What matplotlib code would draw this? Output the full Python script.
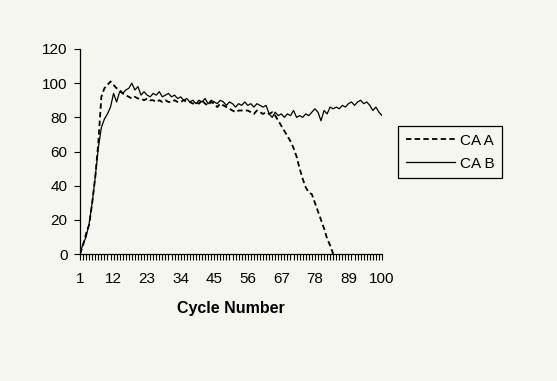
import matplotlib
matplotlib.use("Agg")
import matplotlib.pyplot as plt
import numpy as np

plt.rcParams['font.family'] = ['Liberation Sans', 'DejaVu Sans']

cycles = list(range(1, 101))
ca_a = [0, 5, 12, 17, 30, 45, 65, 92, 97, 99,
        101, 99, 97, 96, 94, 93, 92, 91, 92, 91,
        91, 90, 91, 90, 90, 89, 90, 89, 90, 89,
        89, 90, 89, 89, 90, 89, 89, 88, 89, 88,
        90, 88, 87, 89, 88, 86, 88, 87, 86, 85,
        84, 83, 84, 84, 84, 84, 83, 82, 84, 83,
        82, 83, 82, 83, 81, 78, 75, 72, 69, 66,
        62, 57, 50, 44, 39, 36, 35, 30, 25, 20,
        15, 9, 5, 0]
ca_b = [0, 6, 10, 18, 30, 45, 62, 74, 79, 82,
        86, 94, 89, 95, 94, 96, 97, 100, 96, 98,
        93, 95, 93, 92, 94, 93, 95, 92, 93, 94,
        92, 93, 91, 92, 90, 91, 89, 90, 88, 90,
        89, 91, 88, 90, 89, 88, 90, 89, 87, 89,
        88, 86, 88, 87, 89, 87, 88, 86, 88, 87,
        86, 87, 82, 80, 83, 81, 82, 80, 82, 81,
        84, 80, 81, 80, 82, 81, 83, 85, 83, 78,
        84, 82, 86, 85, 86, 85, 87, 86, 88, 89,
        87, 89, 90, 88, 89, 87, 84, 86, 83, 81]
xtick_labels = [1, 12, 23, 34, 45, 56, 67, 78, 89, 100]
yticks = [0, 20, 40, 60, 80, 100, 120]
series_names = ["CA A", "CA B"]

W, H = 557, 381
fig = plt.figure(figsize=(W / 100, H / 100), dpi=100)
bg = '#f6f6f0'
fig.patch.set_facecolor(bg)
ax = fig.add_axes([80 / W, 1 - 254 / H, (382 - 80) / W, (254 - 49) / H])
ax.set_facecolor(bg)

ax.plot(cycles[:len(ca_a)], ca_a, color='black', lw=1.3, dashes=(3, 1.8),
        label=series_names[0])
ax.plot(cycles, ca_b, color='black', lw=0.9, label=series_names[1])

ax.set_xlim(1, 100)
ax.set_ylim(0, 120)
ax.set_yticks(yticks)
ax.set_xticks(xtick_labels)
ax.set_xticks(cycles, minor=True)
ax.tick_params(axis='x', which='both', direction='out', length=4, width=0.8,
               pad=9, labelsize=11)
ax.tick_params(axis='y', direction='out', length=4, width=0.8, pad=5,
               labelsize=11)
for s in ['top', 'right']:
    ax.spines[s].set_visible(False)
for s in ['left', 'bottom']:
    ax.spines[s].set_linewidth(0.9)
ax.set_xlabel('Cycle Number', fontsize=11.5, fontweight='bold', labelpad=11)

leg = ax.legend(loc='upper left', bbox_to_anchor=(398 / W, 1 - 126 / H),
                bbox_transform=fig.transFigure, frameon=True, fancybox=False,
                edgecolor='black', facecolor=bg, framealpha=1,
                fontsize=11, handlelength=3.2, handletextpad=0.35,
                borderpad=0.5, labelspacing=0.6, borderaxespad=0)
leg.get_frame().set_linewidth(0.9)

fig.savefig('out.png', dpi=100, facecolor=bg)
